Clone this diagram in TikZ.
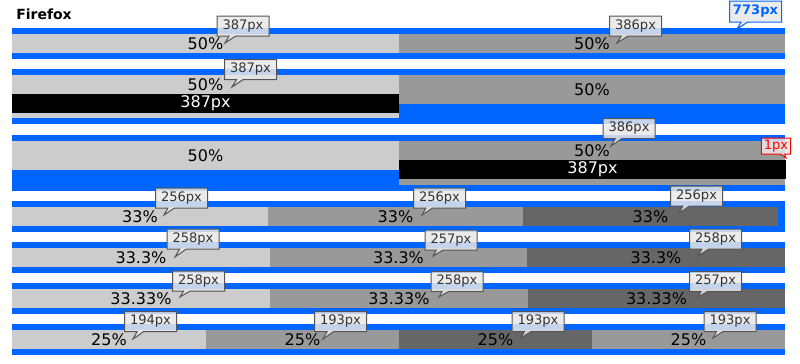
\documentclass[tikz,border=0pt]{standalone}
\usepackage{fontspec}
\setmainfont{DejaVu Sans}
\usetikzlibrary{shapes.callouts}

\definecolor{ffblue}{HTML}{0066FF}
\definecolor{lite}{HTML}{CCCCCC}
\definecolor{mid}{HTML}{999999}
\definecolor{dark}{HTML}{666666}
\definecolor{tipfill}{HTML}{E8E8E8}
\definecolor{tipedge}{HTML}{555555}

\begin{document}
\begin{tikzpicture}[x=0.75pt, y=-0.75pt
        , every node/.style={font=\fontsize{12}{14}\selectfont}
        , tip/.style={rectangle callout, draw=tipedge, line width=0.75pt, fill=tipfill,
            fill opacity=0.85, text opacity=1, text=black!80, inner sep=0pt,
            minimum width=39pt, minimum height=15pt, callout pointer width=5pt,
            font=\fontsize{9.8}{11}\selectfont}
        ]
        \useasboundingbox (0,0) rectangle (800,364);

        \node[anchor=base west, inner sep=0pt, font=\bfseries\fontsize{10.5}{12}\selectfont] (title) at (16,20) {Firefox};

        % row 1
        \fill[ffblue] (12,28) rectangle (785,59);
        \fill[lite] (12,34) rectangle (399,53);
        \fill[mid] (399,34) rectangle (785,53);
        \node (halfa) at (205.5,43.5) {50\%};
        \node (halfb) at (592,43.5) {50\%};

        % row 2
        \fill[ffblue] (12,69) rectangle (785,124);
        \fill[lite] (12,75) rectangle (399,118);
        \fill[black] (12,94) rectangle (399,113);
        \fill[mid] (399,75) rectangle (785,104);
        \node (halfc) at (205.5,84.5) {50\%};
        \node[text=white] (wide) at (205.5,103.5) {387px};
        \node (halfd) at (592,89.5) {50\%};

        % row 3
        \fill[ffblue] (12,135) rectangle (785,191);
        \fill[lite] (12,141) rectangle (399,170);
        \fill[mid] (399,141) rectangle (785,185);
        \fill[black] (399,160) rectangle (786,179);
        \node (halfe) at (205.5,155.5) {50\%};
        \node (halff) at (592,150.5) {50\%};
        \node[text=white] (wider) at (592.5,169.5) {387px};

        % row 4
        \fill[ffblue] (12,201) rectangle (785,232);
        \fill[lite] (12,207) rectangle (268,226);
        \fill[mid] (268,207) rectangle (523,226);
        \fill[dark] (523,207) rectangle (778,226);
        \node (thirda) at (140,216.5) {33\%};
        \node (thirdb) at (395.5,216.5) {33\%};
        \node (thirdc) at (650.5,216.5) {33\%};

        % row 5
        \fill[ffblue] (12,242) rectangle (785,273);
        \fill[lite] (12,248) rectangle (270,267);
        \fill[mid] (270,248) rectangle (527,267);
        \fill[dark] (527,248) rectangle (785,267);
        \node (thirdd) at (141,257.5) {33.3\%};
        \node (thirde) at (398.5,257.5) {33.3\%};
        \node (thirdf) at (656,257.5) {33.3\%};

        % row 6
        \fill[ffblue] (12,283) rectangle (785,314);
        \fill[lite] (12,289) rectangle (270,308);
        \fill[mid] (270,289) rectangle (528,308);
        \fill[dark] (528,289) rectangle (785,308);
        \node (thirdg) at (141,298.5) {33.33\%};
        \node (thirdh) at (399,298.5) {33.33\%};
        \node (thirdi) at (656.5,298.5) {33.33\%};

        % row 7
        \fill[ffblue] (12,324) rectangle (785,355);
        \fill[lite] (12,330) rectangle (206,349);
        \fill[mid] (206,330) rectangle (399,349);
        \fill[dark] (399,330) rectangle (592,349);
        \fill[mid] (592,330) rectangle (785,349);
        \node (quarta) at (109,339.5) {25\%};
        \node (quartb) at (302.5,339.5) {25\%};
        \node (quartc) at (495.5,339.5) {25\%};
        \node (quartd) at (688.5,339.5) {25\%};

        % tooltips
        \node[tip, callout absolute pointer={(225,43)}] (tipa) at (243,26) {387px};
        \node[tip, callout absolute pointer={(617,43)}] (tipb) at (635.5,26) {386px};
        \node[tip, draw=ffblue, text=ffblue, font=\bfseries\fontsize{9.8}{11}\selectfont,
            minimum height=15.75pt, callout absolute pointer={(737,29)}] (total) at (755.5,11.5) {773px};
        \node[tip, callout absolute pointer={(232,87)}] (tipc) at (250.5,69.5) {387px};
        \node[tip, callout absolute pointer={(611,146)}] (tipd) at (629,128.5) {386px};
        \node[tip, draw=red, text=red, minimum width=22pt, minimum height=12pt,
            callout pointer width=3pt, callout absolute pointer={(786,158)}] (over) at (776,146) {1px};

        \node[tip, callout absolute pointer={(164,215)}] (tipe) at (181.5,198) {256px};
        \node[tip, callout absolute pointer={(422,215)}] (tipf) at (439.5,198) {256px};
        \node[tip, callout absolute pointer={(679,213)}] (tipg) at (696.5,196) {256px};

        \node[tip, callout absolute pointer={(175,257)}] (tiph) at (193,239) {258px};
        \node[tip, callout absolute pointer={(433,256)}] (tipi) at (451,240) {257px};
        \node[tip, callout absolute pointer={(698,256)}] (tipj) at (715.5,239) {258px};

        \node[tip, callout absolute pointer={(180,297)}] (tipk) at (198.5,281) {258px};
        \node[tip, callout absolute pointer={(439,297)}] (tipl) at (457,281.5) {258px};
        \node[tip, callout absolute pointer={(698,297)}] (tipm) at (715.5,281.5) {257px};

        \node[tip, callout absolute pointer={(133,339)}] (tipn) at (150.5,321.5) {194px};
        \node[tip, callout absolute pointer={(323,339)}] (tipo) at (340.5,321.5) {193px};
        \node[tip, callout absolute pointer={(521,338)}] (tipp) at (538,321.5) {193px};
        \node[tip, callout absolute pointer={(713,338)}] (tipq) at (730,321.5) {193px};

    \end{tikzpicture}
\end{document}
